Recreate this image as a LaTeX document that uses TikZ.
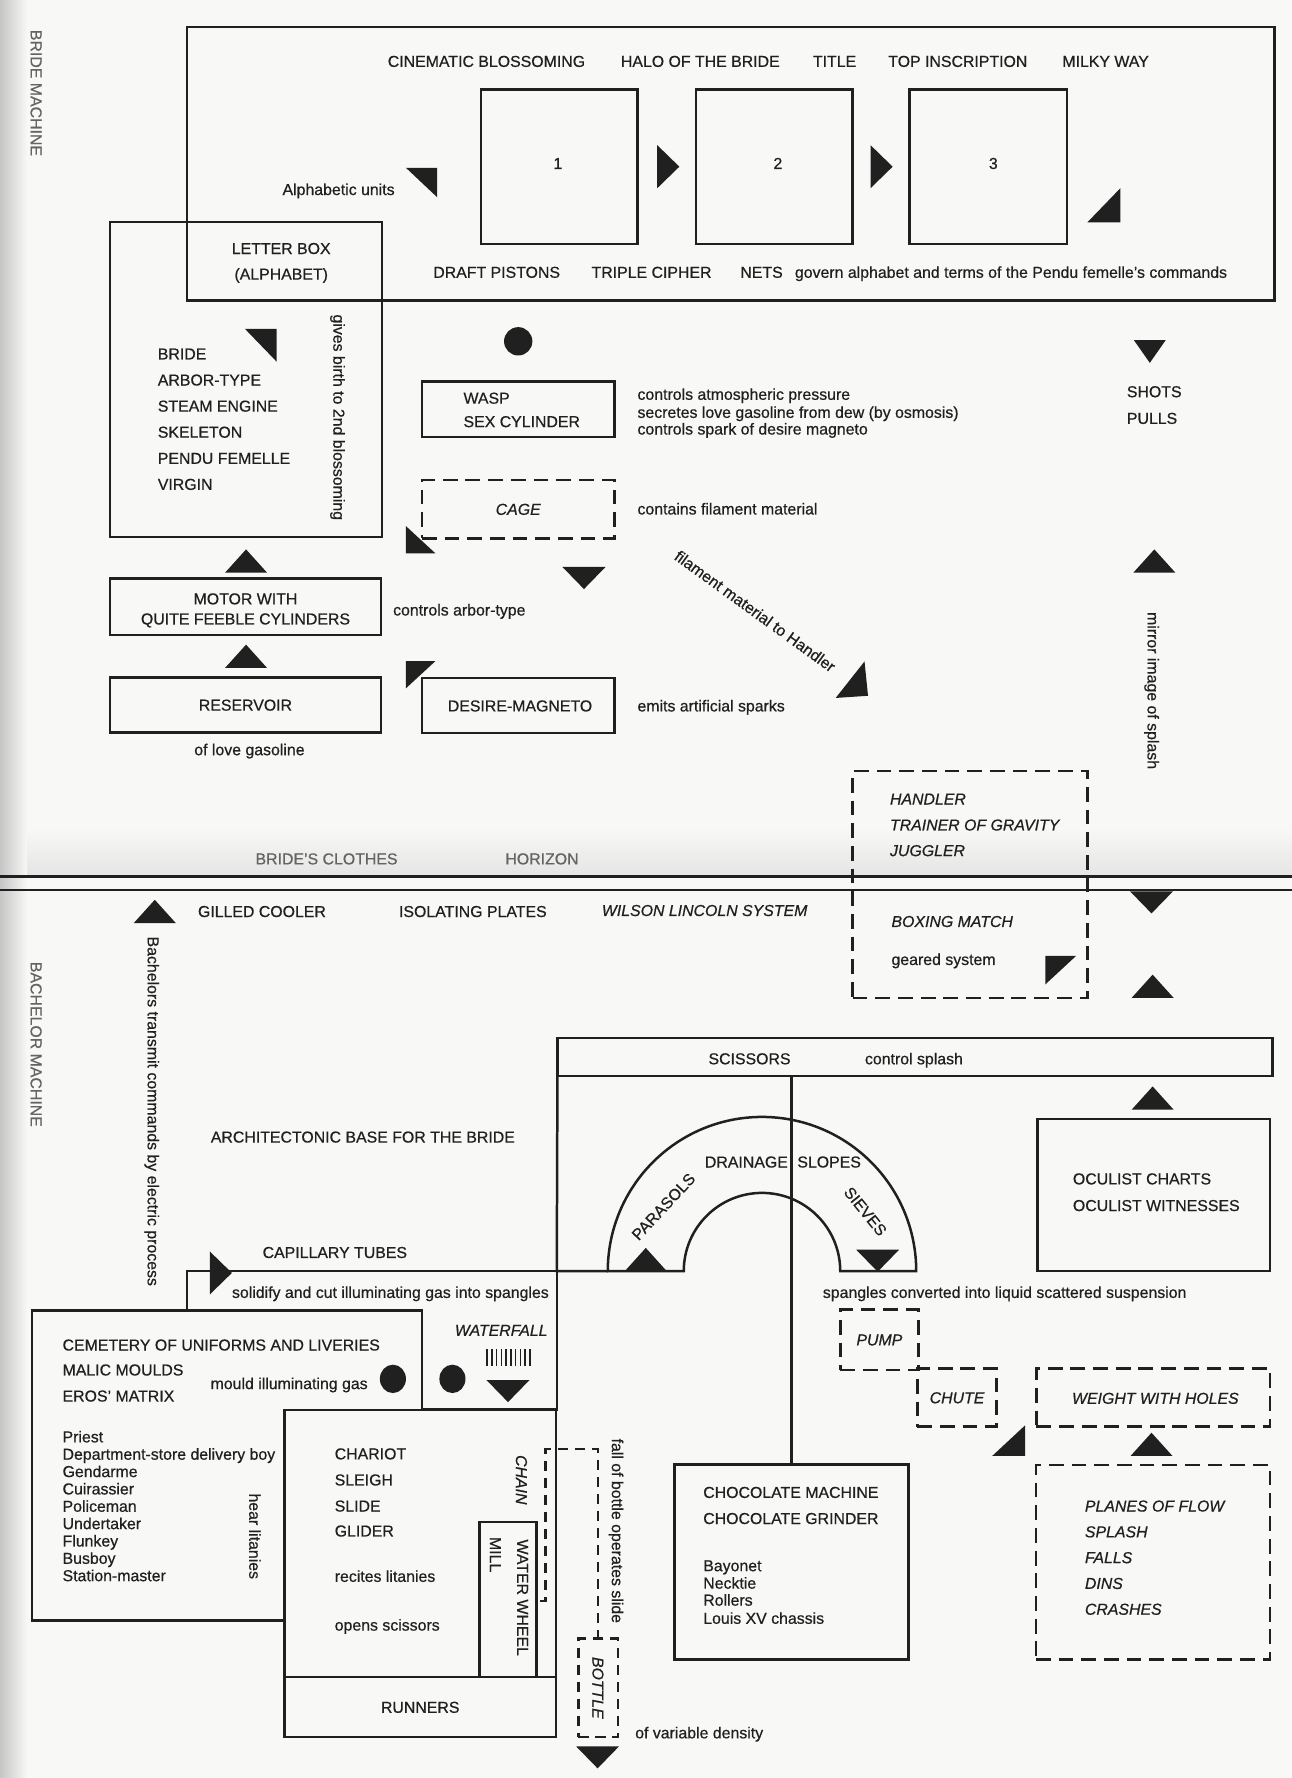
\documentclass[tikz,border=0pt]{standalone}
\usepackage{fontspec}
\setmainfont{Liberation Sans}[FakeBold=0.6]
\definecolor{ink}{RGB}{32,32,32}
\definecolor{paper}{RGB}{248,248,246}
\definecolor{faded}{RGB}{100,100,100}
\tikzset{
  box/.style={draw=ink, line width=2.2pt, inner sep=0pt, outer sep=0pt, text=ink},
  dbox/.style={box, dash pattern=on 13pt off 7pt},
  lbl/.style={text=ink, inner sep=0pt, text height=10pt, text depth=0pt},
  itl/.style={lbl, font=\fontsize{14}{16}\selectfont\itshape},
  wire/.style={draw=ink, line width=2.2pt},
}
\begin{document}
\begin{tikzpicture}[x=1pt, y=-1pt, font=\fontsize{14}{16}\selectfont]
\useasboundingbox (0,0) rectangle (1139,1568);
\fill[paper] (0,0) rectangle (1139,1568);
\shade[left color=gray!45, right color=paper] (0,0) rectangle (24,1568);
\shade[top color=paper, bottom color=gray!20] (24,730) rectangle (1139,771);
\draw[ink, line width=2pt] (0,773) -- (1139,773);
\draw[ink, line width=2pt] (0,784.6) -- (1139,784.6);

\begin{scope}
\node[box, minimum width=959, minimum height=241] (inscr) at (644.5,144.5) {};
\node[box, minimum width=138, minimum height=136] (blos1) at (493,147) {};
\node[box, minimum width=138, minimum height=136] (blos2) at (683,147) {};
\node[box, minimum width=138.7, minimum height=136] (blos3) at (871.4,147) {};
\node[box, minimum width=240, minimum height=277.6] (letter) at (217,334.8) {};
\node[box, minimum width=170, minimum height=49] (wasp) at (457,361) {};
\node[dbox, minimum width=170, minimum height=51.5] (cage) at (457,449) {};
\node[box, minimum width=239, minimum height=50] (motor) at (216.5,535) {};
\node[box, minimum width=239, minimum height=48.6] (reservoir) at (216.5,621.7) {};
\node[box, minimum width=170, minimum height=48.5] (desire) at (457,622.2) {};
\node[dbox, minimum width=207, minimum height=200] (handler) at (855.5,780) {};

\node[lbl, text=faded, rotate=-90] (bridem) at (32,82) {BRIDE MACHINE};
\node[lbl] (num1) at (492,144) {1};
\node[lbl] (num2) at (686,144) {2};
\node[lbl] (num3) at (876,144) {3};
\node[lbl] (cine) at (429,54) {CINEMATIC BLOSSOMING};
\node[lbl] (halo) at (617.6,54) {HALO OF THE BRIDE};
\node[lbl] (title) at (736,54) {TITLE};
\node[lbl] (topinsc) at (844.7,54) {TOP INSCRIPTION};
\node[lbl] (milky) at (975,54) {MILKY WAY};
\node[lbl] (alphunits) at (298.6,167) {Alphabetic units};
\node[lbl] (draft) at (438,240) {DRAFT PISTONS};
\node[lbl] (triple) at (574.6,240) {TRIPLE CIPHER};
\node[lbl] (nets) at (671.6,240) {NETS};
\node[lbl] (govern) at (891.6,240) {govern alphabet and terms of the Pendu femelle's commands};
\node[lbl] (letterbox) at (248,219) {LETTER BOX};
\node[lbl] (alphabet) at (248,241.6) {(ALPHABET)};
\foreach \t [count=\i from 0] in {BRIDE,ARBOR-TYPE,STEAM ENGINE,SKELETON,PENDU FEMELLE,VIRGIN}
  \node[lbl, anchor=west] (bride\i) at (139,312+23*\i) {\t};
\node[lbl, rotate=-90] (givesbirth) at (299,368) {gives birth to 2nd blossoming};
\node[lbl, anchor=west] (waspname) at (408.6,351) {WASP};
\node[lbl, anchor=west] (sexcyl) at (408.6,371.7) {SEX CYLINDER};
\node[lbl, anchor=west] (pressure) at (562,347.6) {controls atmospheric pressure};
\node[lbl, anchor=west] (secretes) at (562,363.5) {secretes love gasoline from dew (by osmosis)};
\node[lbl, anchor=west] (spark) at (562,378.2) {controls spark of desire magneto};
\node[itl] (cagename) at (cage) {CAGE};
\node[lbl, anchor=west] (filament) at (562,448.7) {contains filament material};
\node[lbl] (motorwith) at (216.5,528) {MOTOR WITH};
\node[lbl] (feeble) at (216.5,545.7) {QUITE FEEBLE CYLINDERS};
\node[lbl, anchor=west] (arbor) at (346.5,537.8) {controls arbor-type};
\node[lbl] (resname) at (reservoir) {RESERVOIR};
\node[lbl] (lovegas) at (220,661) {of love gasoline};
\node[lbl] (desirename) at (458.6,622.4) {DESIRE-MAGNETO};
\node[lbl, anchor=west] (sparks) at (562,622.4) {emits artificial sparks};
\node[lbl, rotate=-36] (tohandler) at (666,539) {filament material to Handler};
\node[lbl, anchor=west] (shots) at (993.6,345.3) {SHOTS};
\node[lbl, anchor=west] (pulls) at (993.6,368.8) {PULLS};
\node[lbl, rotate=-90] (mirror) at (1017,609) {mirror image of splash};
\node[itl, anchor=west] (handlername) at (784.7,704.5) {HANDLER};
\node[itl, anchor=west] (trainer) at (784.7,727.4) {TRAINER OF GRAVITY};
\node[itl, anchor=west] (juggler) at (784.7,750) {JUGGLER};
\node[itl, anchor=west] (boxing) at (786,812.5) {BOXING MATCH};
\node[lbl, anchor=west] (geared) at (786,846) {geared system};
\node[lbl, text=faded] (clothes) at (288,757.3) {BRIDE'S CLOTHES};
\node[lbl, text=faded] (horizon) at (478,757.3) {HORIZON};

\fill[ink] (457,301) circle [radius=12.5pt];
\fill[ink] (358,148) -- (385.6,148) -- (385.6,174) -- cycle;
\fill[ink] (959,196) -- (988,196) -- (988,166) -- cycle;
\fill[ink] (216,290) -- (244,290) -- (244,319) -- cycle;
\fill[ink] (358,464) -- (358,488) -- (384,488) -- cycle;
\fill[ink] (358,583) -- (384,583) -- (358,607) -- cycle;
\fill[ink] (737,615.5) -- (765.5,613.6) -- (762.4,583.3) -- cycle;
\fill[ink] (922,843) -- (949,843) -- (922,868) -- cycle;
\fill[ink] (1000,300) -- (1028,300) -- (1014,320) -- cycle;
\end{scope}

\begin{scope}
\node[box, minimum width=630.4, minimum height=33.6] (scissors) at (806.8,932.2) {};
\node[box, minimum width=205, minimum height=134.4] (oculist) at (1017.5,1053.8) {};
\node[box, minimum width=326, minimum height=122] (capbox) at (328,1182) {};
\node[box, fill=paper, minimum width=344, minimum height=273.5] (cemetery) at (200,1292.3) {};
\node[box, fill=paper, minimum width=239.7, minimum height=288.4] (chariot) at (370.6,1387.8) {};
\node[box, minimum width=239.7, minimum height=53] (runners) at (370.6,1505.5) {};
\node[box, minimum width=50, minimum height=137] (mill) at (448,1410.5) {};
\node[box, minimum width=206, minimum height=172] (choc) at (698,1377.6) {};
\node[dbox, minimum width=69, minimum height=53] (pump) at (775.5,1181.5) {};
\node[dbox, minimum width=70, minimum height=51] (chute) at (844,1232.5) {};
\node[dbox, minimum width=206, minimum height=51] (weight) at (1017,1232.5) {};
\node[dbox, minimum width=206.4, minimum height=171.6] (planes) at (1016.8,1377.8) {};
\node[box, dash pattern=on 9pt off 6pt, minimum width=35, minimum height=87] (bottle) at (527.5,1488.5) {};

\coordinate (archL) at (536,1121);
\coordinate (chainend) at (476,1412);
\draw[wire] (scissors.south west) -- (capbox.north east) -- (archL);
\draw[wire] (scissors.south -| choc.north) -- (choc.north);
\draw[wire] (archL) arc[start angle=180, end angle=0, radius=136pt] -- (741,1121)
  arc[start angle=0, end angle=180, radius=69pt] -- cycle;
\draw[wire, dash pattern=on 9pt off 6pt] (chainend) -- (481,1412) -- (481,1278) -| (bottle.north);

\node[lbl, text=faded, rotate=-90] (bachm) at (32,921) {BACHELOR MACHINE};
\node[lbl] (gilled) at (231,803.7) {GILLED COOLER};
\node[lbl] (isolating) at (417,803.7) {ISOLATING PLATES};
\node[itl] (wilson) at (621.4,802.8) {WILSON LINCOLN SYSTEM};
\node[lbl, rotate=-90] (transmit) at (135.2,980) {Bachelors transmit commands by electric process};
\node[lbl] (architect) at (320,1002.6) {ARCHITECTONIC BASE FOR THE BRIDE};
\node[lbl] (capillary) at (295.3,1104.4) {CAPILLARY TUBES};
\node[lbl] (solidify) at (344.3,1139.6) {solidify and cut illuminating gas into spangles};
\node[lbl] (scissname) at (661,933.6) {SCISSORS};
\node[lbl] (ctlsplash) at (806,933.6) {control splash};
\node[lbl, anchor=east] (drainage) at (695,1024.6) {DRAINAGE};
\node[lbl, anchor=west] (slopes) at (703,1024.6) {SLOPES};
\node[lbl, rotate=47] (parasols) at (585,1064) {PARASOLS};
\node[lbl, rotate=-51] (sieves) at (763.3,1068.2) {SIEVES};
\node[lbl, anchor=west] (charts) at (946,1039.5) {OCULIST CHARTS};
\node[lbl, anchor=west] (witnesses) at (946,1063) {OCULIST WITNESSES};
\node[lbl] (suspension) at (886,1139.6) {spangles converted into liquid scattered suspension};
\node[lbl, anchor=west] (cemname) at (55,1186) {CEMETERY OF UNIFORMS AND LIVERIES};
\node[lbl, anchor=west] (malic) at (55,1208) {MALIC MOULDS};
\node[lbl, anchor=west] (eros) at (55,1231) {EROS' MATRIX};
\node[lbl] (mouldgas) at (255,1220) {mould illuminating gas};
\foreach \t [count=\i from 0] in {Priest,Department-store delivery boy,Gendarme,Cuirassier,Policeman,Undertaker,Flunkey,Busboy,Station-master}
  \node[lbl, anchor=west] (livery\i) at (55,1267+15.3*\i) {\t};
\node[lbl, rotate=-90] (hear) at (224.8,1354.8) {hear litanies};
\node[itl] (waterfall) at (442,1173) {WATERFALL};
\node[lbl, anchor=west] (chariotname) at (295,1282) {CHARIOT};
\node[lbl, anchor=west] (sleigh) at (295,1305) {SLEIGH};
\node[lbl, anchor=west] (slide) at (295,1328) {SLIDE};
\node[lbl, anchor=west] (glider) at (295,1350) {GLIDER};
\node[lbl, anchor=west] (recites) at (295,1390) {recites litanies};
\node[lbl, anchor=west] (opens) at (295,1433) {opens scissors};
\node[itl, rotate=-90] (chainname) at (460,1305) {CHAIN};
\node[lbl, rotate=-90] (millname) at (437,1371) {MILL};
\node[lbl, rotate=-90] (wheel) at (461,1409) {WATER WHEEL};
\node[lbl] (runnersname) at (runners) {RUNNERS};
\node[lbl, rotate=-90] (fallbottle) at (544.6,1350) {fall of bottle operates slide};
\node[itl, rotate=-90] (bottlename) at (bottle) {BOTTLE};
\node[lbl, anchor=west] (density) at (560,1528) {of variable density};
\node[lbl, anchor=west] (chocmach) at (620,1316) {CHOCOLATE MACHINE};
\node[lbl, anchor=west] (chocgrind) at (620,1339) {CHOCOLATE GRINDER};
\node[lbl, anchor=west] (bayonet) at (620,1380.6) {Bayonet};
\node[lbl, anchor=west] (necktie) at (620,1396) {Necktie};
\node[lbl, anchor=west] (rollers) at (620,1411) {Rollers};
\node[lbl, anchor=west] (chassis) at (620,1427) {Louis XV chassis};
\node[itl] (pumpname) at (pump) {PUMP};
\node[itl] (chutename) at (chute) {CHUTE};
\node[itl] (weightname) at (1018.9,1233) {WEIGHT WITH HOLES};
\foreach \t [count=\i from 0] in {PLANES OF FLOW,SPLASH,FALLS,DINS,CRASHES}
  \node[itl, anchor=west] (flow\i) at (956.6,1328+22.75*\i) {\t};

\fill[ink] (346.5,1216) ellipse [x radius=11.5pt, y radius=12.5pt];
\fill[ink] (399,1216) ellipse [x radius=11.5pt, y radius=12.5pt];
\foreach \i in {0,...,9}
  \draw[ink, line width=1.3pt] ({429.5+4.2*\i},1190) -- ++(0,15);
\fill[ink] (875,1284) -- (904,1284) -- (904,1257) -- cycle;
\end{scope}

\foreach \x/\y in {217/505,217/589,1018/505,136.5/814,1016.5/880,1016.5/978.6,1015.5/1284,569.5/1121}
  \fill[ink] (\x-18.5,\y) -- (\x+18.5,\y) -- (\x,\y-20.5) -- cycle;
\foreach \x/\y in {515/500,1015.5/786,774/1102,448/1217,527/1540}
  \fill[ink] (\x-19,\y) -- (\x+19,\y) -- (\x,\y+19.5) -- cycle;
\foreach \x/\y in {579.6/128,767.7/128,185/1103.6}
  \fill[ink] (\x,\y) -- (\x+19.5,\y+19) -- (\x,\y+38) -- cycle;
\end{tikzpicture}
\end{document}
